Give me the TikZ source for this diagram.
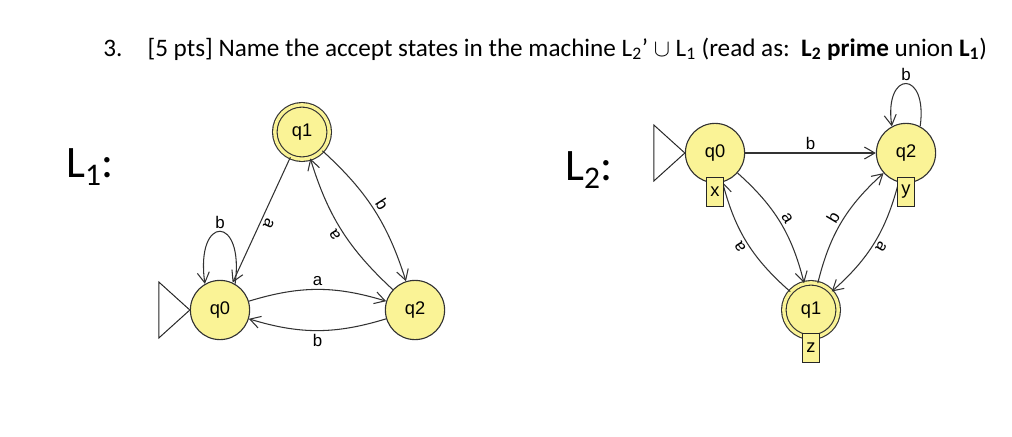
\documentclass[tikz,border=0pt]{standalone}
\usepackage{fontspec}
\setmainfont{Carlito}
\newfontfamily\jflapfont{Liberation Sans}
\usepackage{xcolor}
\usetikzlibrary{arrows.meta,positioning}

\definecolor{statefill}{RGB}{250,243,150}
\definecolor{edgegray}{RGB}{50,50,50}

\begin{document}
\begin{tikzpicture}[
  x=0.025cm, y=-0.025cm,
  fastate/.style={circle, draw=black!80, fill=statefill, line width=0.8pt, minimum size=1.48cm, inner sep=0pt, font=\jflapfont\fontsize{13}{15}\selectfont},
  accept/.style={double=statefill, double distance=2.4pt, minimum size=1.36cm},
  tagbox/.style={draw=black!85, fill=statefill, line width=0.7pt, minimum width=0.42cm, minimum height=0.72cm, inner sep=0pt, font=\jflapfont\fontsize{13}{15}\selectfont},
  startmark/.style={draw=black!85, fill=white, line width=0.7pt},
  edge/.style={draw=edgegray, line width=0.75pt, -{Straight Barb[length=2.6mm, width=3mm]}},
  lbl/.style={font=\jflapfont\fontsize{12}{14}\selectfont, inner sep=2pt, auto, sloped, allow upside down},
  flatlbl/.style={font=\jflapfont\fontsize{12}{14}\selectfont, inner sep=2pt, auto},
  looplbl/.style={font=\jflapfont\fontsize{12}{14}\selectfont, inner sep=1.5pt, above},
  loopedge/.style={edge, out=82, in=98, looseness=6},
  big/.style={font=\fontsize{32}{38}\selectfont, inner sep=0pt, anchor=base west}
]
\useasboundingbox (0,0) rectangle (1012,436);

% question
\node[anchor=base west, inner sep=0pt, font=\fontsize{17.9}{21}\selectfont] (title) at (103,56)
  {3.\quad [5 pts] Name the accept states in the machine L\textsubscript{2}’ $\cup$ L\textsubscript{1} (read as:\ \ \textbf{L\textsubscript{2} prime} union \textbf{L\textsubscript{1}})};

% machine L1
\node[big] (lone) at (66,177) {L\textsubscript{1}:};
\node[fastate] (aq0) at (220,310) {q0};
\node[fastate, accept] (aq1) at (302,132) {q1};
\node[fastate] (aq2) at (415,310) {q2};
\draw[startmark] (aq0.west) -- ++(-31,-28) -- ++(0,56) -- cycle;

\draw[edge] (aq1) -- node[lbl]{a} (aq0);
\draw[edge] (aq1) to[bend left=15] node[lbl]{b} (aq2);
\draw[edge] (aq2) to[bend left=15] node[lbl]{a} (aq1);
\draw[edge] (aq0) to[bend left=17] node[flatlbl]{a} (aq2);
\draw[edge] (aq2) to[bend left=17] node[flatlbl]{b} (aq0);
\draw[loopedge] (aq0.60) to node[looplbl]{b} (aq0.120);

% machine L2
\node[big] (ltwo) at (565,180) {L\textsubscript{2}:};
\node[fastate] (bq0) at (715,153) {q0};
\node[fastate] (bq2) at (906,153) {q2};
\node[fastate, accept] (bq1) at (811,310) {q1};
\draw[startmark] (bq0.west) -- ++(-31,-28) -- ++(0,56) -- cycle;

\draw[edge] (bq0) -- node[flatlbl]{b} (bq2);
\draw[edge] (bq0) to[bend left=17] node[lbl]{a} (bq1);
\draw[edge] (bq1) to[bend left=17] node[lbl]{a} (bq0);
\draw[edge] (bq1) to[bend left=17] node[lbl]{b} (bq2);
\draw[edge] (bq2) to[bend left=17] node[lbl]{a} (bq1);
\draw[loopedge, looseness=5.2] (bq2.62) to node[looplbl]{b} (bq2.118);

\node[tagbox, anchor=north] (bx) at ([yshift=-0.6cm]bq0.center) {x};
\node[tagbox, anchor=north] (by) at ([yshift=-0.6cm]bq2.center) {y};
\node[tagbox, anchor=north] (bz) at ([yshift=-0.58cm]bq1.center) {z};
\end{tikzpicture}
\end{document}
